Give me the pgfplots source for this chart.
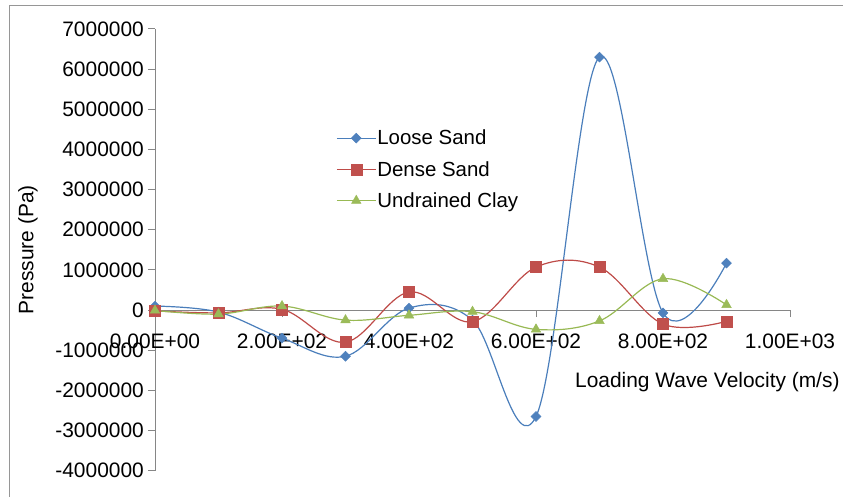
\documentclass[border=0pt]{standalone}
\usepackage{pgfplots}
\pgfplotsset{compat=1.18}
\usepackage{fontspec}
\setmainfont{Liberation Sans}
\definecolor{lsL}{RGB}{74,126,187}
\definecolor{lsM}{RGB}{79,129,189}
\definecolor{dsL}{RGB}{190,75,72}
\definecolor{dsM}{RGB}{192,80,77}
\definecolor{ucL}{RGB}{152,185,84}
\definecolor{ucM}{RGB}{155,187,89}
\definecolor{axgray}{RGB}{134,134,134}
\definecolor{framegray}{RGB}{150,150,150}
\begin{document}
\begin{tikzpicture}[x=1bp,y=1bp]
\useasboundingbox (0,0) rectangle (843,497);
\draw[color=framegray, line width=1bp] (9,-20) rectangle (900,491);
\begin{axis}[
  at={(155bp,26.3bp)}, anchor=south west,
  scale only axis, width=635bp, height=441.7bp,
  xmin=0, xmax=1000, ymin=-4000000, ymax=7000000,
  scaled y ticks=false, scaled x ticks=false,
  axis x line*=middle, axis y line*=left,
  hide obscured x ticks=false, hide obscured y ticks=false,
  axis line style={color=axgray, line width=1bp},
  tick style={color=axgray, line width=1bp},
  tick align=outside, major tick length=7bp,
  xtick={0,200,400,600,800,1000},
  xticklabels={0.00E+00,2.00E+02,4.00E+02,6.00E+02,8.00E+02,1.00E+03},
  ytick={-4000000,-3000000,-2000000,-1000000,0,1000000,2000000,3000000,4000000,5000000,6000000,7000000},
  yticklabels={-4000000,-3000000,-2000000,-1000000,0,1000000,2000000,3000000,4000000,5000000,6000000,7000000},
  tick label style={font=\fontsize{21}{24}\selectfont, text=black},
  yticklabel style={anchor=east, inner sep=0pt, xshift=-4bp},
  xticklabel style={anchor=north, inner sep=0pt, yshift=-17bp},
  ylabel={Pressure (Pa)},
  xlabel={Loading Wave Velocity (m/s)},
  every axis y label/.style={at={(axis description cs:-0.2,0.5)}, rotate=90, anchor=center, font=\fontsize{21}{24}\selectfont},
  every axis x label/.style={at={(axis description cs:1.0835,0.2008)}, anchor=east, font=\fontsize{21}{24}\selectfont},
  legend style={draw=none, fill=none, at={(axis description cs:0.285,0.774)}, anchor=north west,
    font=\fontsize{20.5}{24}\selectfont, row sep=13bp, inner sep=0pt,
    nodes={inner sep=1bp, anchor=west}},
  legend cell align=left,
  legend image code/.code={\draw[mark repeat=2,mark phase=2] plot coordinates {(0bp,0bp)(19.5bp,0bp)(39bp,0bp)};},
  every axis plot/.append style={smooth, tension=0.6, line width=1.2bp},
]
\addplot[color=lsL, mark=square*, mark size=3.5bp, mark options={rotate=45, fill=lsM, draw=lsM, line width=0.5bp}] coordinates {
(0,100000) (100,-50000) (200,-700000) (300,-1150000) (400,50000) (500,-250000) (600,-2650000) (700,6300000) (800,-70000) (900,1170000)};
\addlegendentry{Loose Sand}
\addplot[color=dsL, mark=square*, mark size=5.5bp, mark options={fill=dsM, draw=dsM, line width=0.5bp}] coordinates {
(0,-20000) (100,-70000) (200,20000) (300,-800000) (400,450000) (500,-290000) (600,1070000) (700,1070000) (800,-350000) (900,-280000)};
\addlegendentry{Dense Sand}
\addplot[color=ucL, mark=triangle*, mark size=5.5bp, mark options={fill=ucM, draw=ucM, line width=0.5bp}] coordinates {
(0,-10000) (100,-100000) (200,100000) (300,-250000) (400,-130000) (500,-40000) (600,-480000) (700,-270000) (800,780000) (900,130000)};
\addlegendentry{Undrained Clay}
\end{axis}
\end{tikzpicture}
\end{document}
